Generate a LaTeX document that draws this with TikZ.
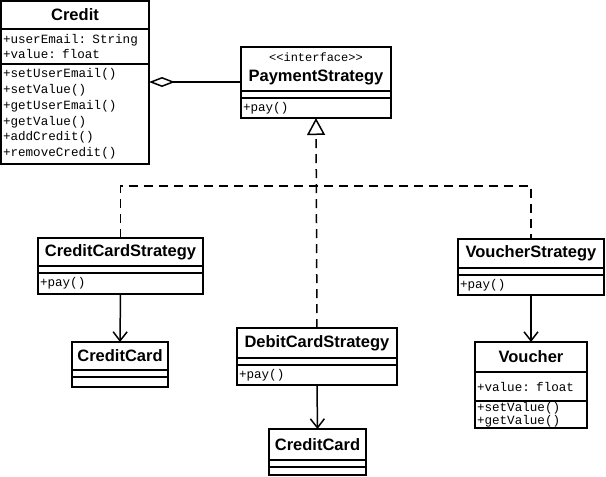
\documentclass[tikz,border=0pt]{standalone}
\usepackage{fontspec}
\setmainfont{Liberation Sans}
\setmonofont{Liberation Mono}
\usetikzlibrary{arrows.meta,positioning}

\newcommand{\clsfont}{\fontsize{16.5}{19}\selectfont\bfseries}
\newcommand{\mbrfont}{\ttfamily\fontsize{12.6}{15.8}\selectfont}
\newcommand{\stereofont}{\mdseries\ttfamily\fontsize{12}{19}\selectfont}

\tikzset{
  box/.style={draw, rectangle, line width=1.5pt, inner sep=0pt, outer sep=0pt, anchor=north west},
  clsname/.style={box, font=\clsfont, align=center},
  members/.style={box, font=\mbrfont, align=left, inner xsep=2pt},
  conn/.style={line width=1.5pt},
  realize/.style={conn, dash pattern=on 9pt off 6pt},
  aggr/.style={conn, -{Diamond[open, length=26pt, width=10pt]}},
  assoc/.style={conn, -{Straight Barb[length=9pt, width=14pt]}},
  inherit/.style={realize, -{Triangle[open, length=17pt, width=18pt]}}
}

\begin{document}
\begin{tikzpicture}[x=1pt, y=-1pt]
\useasboundingbox (0,0) rectangle (606,477);
% Credit
\node[clsname, minimum width=148pt, minimum height=28pt] (crname) at (1,1) {Credit};
\node[members, text width=144pt, minimum height=35pt] (crattr) at (crname.south west) {+userEmail: String\\+value: float};
\node[members, text width=144pt, minimum height=100pt] (crmeth) at (crattr.south west) {+setUserEmail()\\+setValue()\\+getUserEmail()\\+getValue()\\+addCredit()\\+removeCredit()};
% PaymentStrategy
\node[clsname, minimum width=150pt, minimum height=44pt] (psname) at (241,47) {{\stereofont <{}<interface>{}>}\\[1pt]PaymentStrategy};
\node[members, text width=146pt, minimum height=7pt] (psattr) at (psname.south west) {};
\node[members, text width=146pt, minimum height=20pt] (psmeth) at (psattr.south west) {+pay()};
% CreditCardStrategy
\node[clsname, minimum width=165pt, minimum height=28pt] (ccsname) at (38,238) {CreditCardStrategy};
\node[members, text width=161pt, minimum height=7pt] (ccsattr) at (ccsname.south west) {};
\node[members, text width=161pt, minimum height=21pt] (ccsmeth) at (ccsattr.south west) {+pay()};
% DebitCardStrategy
\node[clsname, minimum width=160pt, minimum height=30pt] (dcsname) at (237,328) {DebitCardStrategy};
\node[members, text width=156pt, minimum height=7pt] (dcsattr) at (dcsname.south west) {};
\node[members, text width=156pt, minimum height=20pt] (dcsmeth) at (dcsattr.south west) {+pay()};
% VoucherStrategy
\node[clsname, minimum width=146pt, minimum height=29pt] (vsname) at (458,239) {VoucherStrategy};
\node[members, text width=142pt, minimum height=7pt] (vsattr) at (vsname.south west) {};
\node[members, text width=142pt, minimum height=20pt] (vsmeth) at (vsattr.south west) {+pay()};
% CreditCard (left)
\node[clsname, minimum width=96pt, minimum height=28pt] (ccaname) at (72,342) {CreditCard};
\node[members, text width=92pt, minimum height=7pt] (ccaattr) at (ccaname.south west) {};
\node[members, text width=92pt, minimum height=10pt] (ccameth) at (ccaattr.south west) {};
% CreditCard (bottom)
\node[clsname, minimum width=97pt, minimum height=31pt] (ccbname) at (269,429) {CreditCard};
\node[members, text width=93pt, minimum height=7pt] (ccbattr) at (ccbname.south west) {};
\node[members, text width=93pt, minimum height=8pt] (ccbmeth) at (ccbattr.south west) {};
% Voucher
\node[clsname, minimum width=112pt, minimum height=30pt] (vcname) at (475,342) {Voucher};
\node[members, text width=108pt, minimum height=29pt] (vcattr) at (vcname.south west) {+value: float};
\node[members, text width=108pt, minimum height=27pt, font=\ttfamily\fontsize{12.6}{13.5}\selectfont] (vcmeth) at (vcattr.south west) {+setValue()\\+getValue()};

% aggregation
\coordinate (aggrend) at ([yshift=-13pt]psname.west);
\draw[aggr] (aggrend) -- (aggrend -| crmeth.east);
% realization
\coordinate (junc) at (dcsname.north |- 0,186);
\draw[inherit] (dcsname.north) -- (psmeth.south);
\draw[realize] (ccsname.north) |- (junc) -| (vsname.north);
% associations
\draw[assoc] (ccsmeth.south) -- (ccaname.north);
\draw[assoc] (dcsmeth.south) -- (ccbname.north);
\draw[assoc] (vsmeth.south) -- (vcname.north);
\end{tikzpicture}
\end{document}
